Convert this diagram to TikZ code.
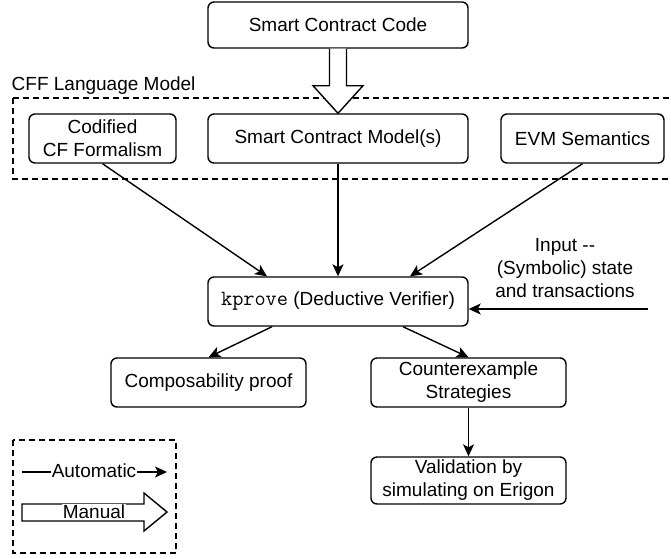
\documentclass[tikz,border=0pt]{standalone}
\usepackage{fontspec}
\setmainfont{Liberation Sans}
\setmonofont[Scale=1.14]{Latin Modern Mono}
\usetikzlibrary{arrows.meta,calc}
\tikzset{
  box/.style={draw, rounded corners=6pt, align=center, inner sep=0pt},
  grp/.style={draw, dash pattern=on 6pt off 4pt},
  >={Stealth[length=12pt,width=11pt,inset=3pt]},
}
\begin{document}
\begin{tikzpicture}[x=1pt,y=-1pt,line width=1.4pt,font=\fontsize{19}{23}\selectfont]
    \useasboundingbox (0,0) rectangle (671,558);
    % language model group
    \draw[grp] (13,98) rectangle (690,179);
    \node[anchor=base west,inner sep=0pt] (cffl) at (11,90) {CFF Language Model};
    \node[box,minimum width=260pt,minimum height=46pt] (code) at (338,25) {Smart Contract Code};
    \node[box,minimum width=147pt,minimum height=49pt] (cf) at (102.5,138.5) {Codified\\CF Formalism};
    \node[box,minimum width=260pt,minimum height=49pt] (scm) at (338,138.5) {Smart Contract Model(s)};
    \node[box,minimum width=163pt,minimum height=49pt] (evm) at (582.5,138.5) {EVM Semantics};
    \node[box,minimum width=260pt,minimum height=49pt] (kp) at (338,301.5) {\texttt{kprove} (Deductive Verifier)};
    \node[box,minimum width=195pt,minimum height=49pt] (comp) at (208.5,382.5) {Composability proof};
    \node[box,minimum width=195pt,minimum height=49pt] (cex) at (468.5,382.5) {Counterexample\\Strategies};
    \node[box,minimum width=195pt,minimum height=47pt] (val) at (468.5,480.5) {Validation by\\simulating on Erigon};
    \node[align=center] (inp) at (565,268) {Input -{}-\\(Symbolic) state\\and transactions};
    \coordinate (inp0) at (648,309);
    % manual step
    \draw[fill=white] ($(code.south)+(-8.5,0)$) -- ($(code.south)+(-8.5,37)$) -- ($(code.south)+(-25,37)$)
      -- (scm.north) -- ($(code.south)+(25,37)$) -- ($(code.south)+(8.5,37)$) -- ($(code.south)+(8.5,0)$);
    \draw[->] (cf.south) -- ($(kp.north)+(-71,0)$);
    \draw[->] (scm) -- (kp);
    \draw[->] (evm.south) -- ($(kp.north)+(72,0)$);
    \draw[->] (inp0) -- (inp0 -| kp.east);
    \draw[->] ($(kp.south)+(-66,0)$) -- (comp.north);
    \draw[->] ($(kp.south)+(65,0)$) -- (cex.north);
    \draw[->] (cex) -- (val);
    % legend
    \draw[grp] (13,440) rectangle (176,553);
    \coordinate (a0) at (22,472);
    \coordinate (a1) at (167,472);
    \draw[->] (a0) -- (a1);
    \node[fill=white,inner sep=1pt] (auto) at (94,471) {Automatic};
    \draw[fill=white] (22,504) -- (144,504) -- (144,493) -- (167,512) -- (144,531) -- (144,521) -- (22,521) -- cycle;
    \node[fill=white,inner sep=1pt] (man) at (94,512) {Manual};
  \end{tikzpicture}
\end{document}
